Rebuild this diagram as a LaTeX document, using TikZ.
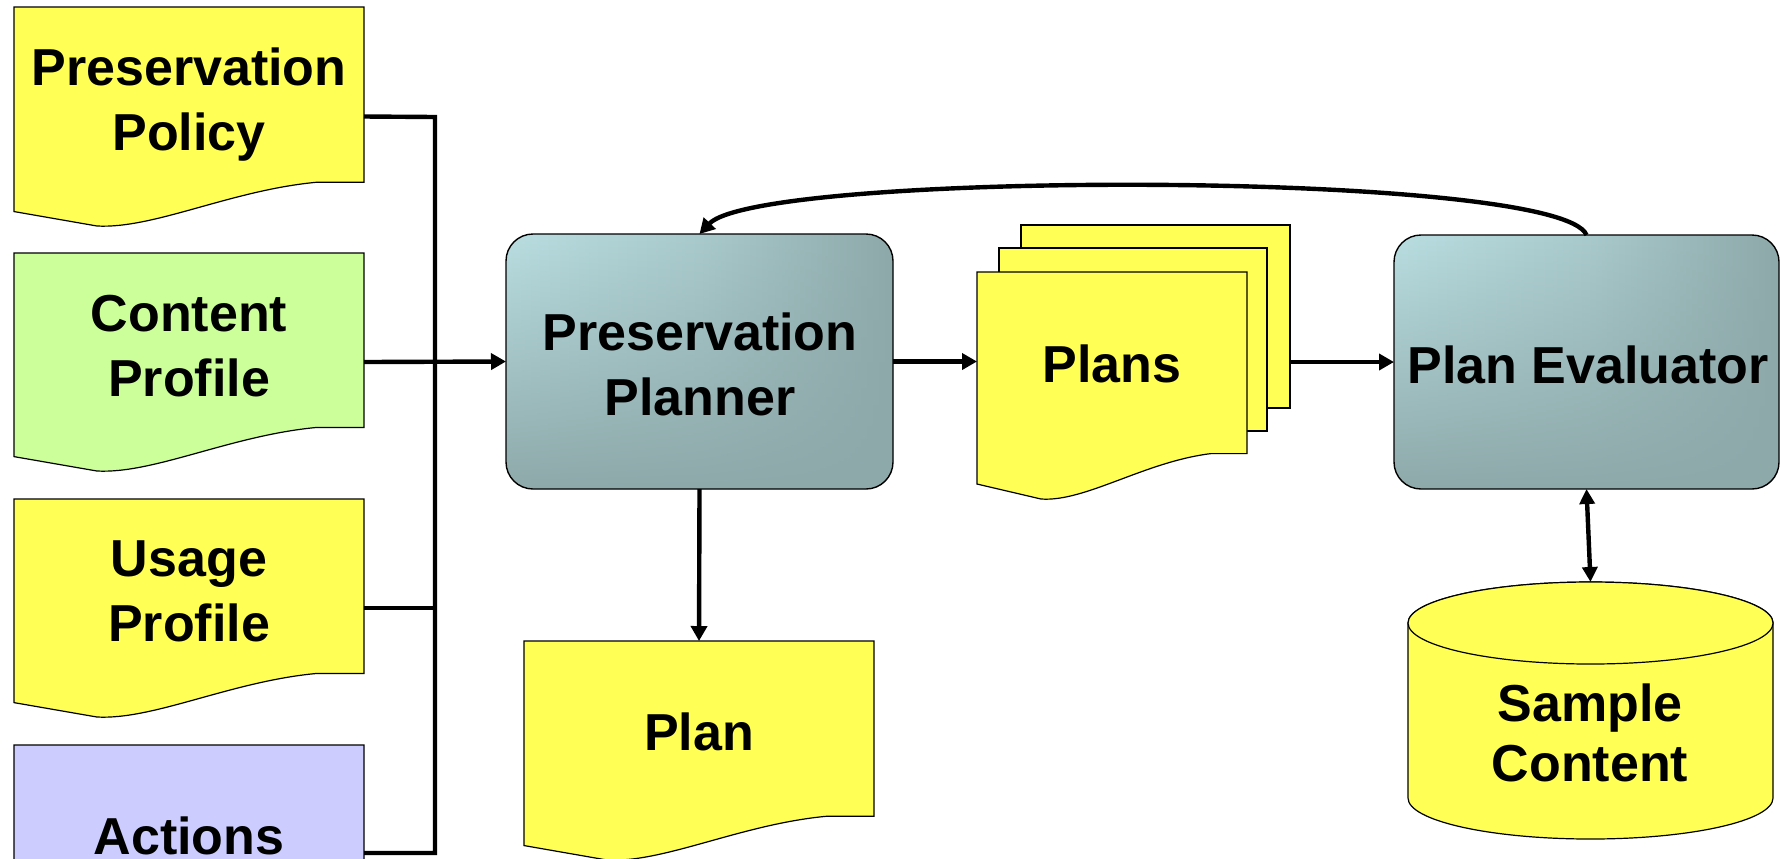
\documentclass[tikz,border=0pt]{standalone}
\usepackage{fontspec}
\setmainfont{Liberation Sans}
\usetikzlibrary{arrows.meta,fit,calc,fadings}

\definecolor{docyellow}{HTML}{FFFF55}
\definecolor{docgreen}{HTML}{CCFF99}
\definecolor{doclilac}{HTML}{CCCCFF}
\definecolor{boxlight}{HTML}{B9DEE1}
\definecolor{boxmid}{HTML}{A9CACC}
\definecolor{boxdark}{HTML}{8EA9AA}

% darkening towards the lower edge of the process boxes
\tikzfading[name=lowdark, top color=transparent!100, middle color=transparent!75, bottom color=transparent!0]

\tikzset{
  area/.style={inner sep=0pt, outer sep=0pt},
  docline/.style={draw=black, line width=0.6pt},
  sheet/.style={inner sep=0pt, outer sep=0pt, draw=black, line width=0.6pt, fill=docyellow},
  procbox/.style={inner sep=0pt, outer sep=0pt, rounded corners=13.5pt,
    left color=boxlight, right color=boxdark, middle color=boxmid,
    postaction={fill=boxdark, path fading=lowdark},
    postaction={draw=black, line width=0.7pt}},
  lbl/.style={font=\bfseries\fontsize{26pt}{32pt}\selectfont, inner sep=0pt, anchor=base},
  wire/.style={line width=2.2pt, line join=miter},
  arr/.style={line width=2.2pt, -{Triangle[length=7.5pt,width=8pt]}},
  twoway/.style={line width=2.2pt, {Triangle[length=7.5pt,width=7.5pt]}-{Triangle[length=7.5pt,width=7.5pt]}},
}

% document symbol with a wavy lower edge, drawn over the area of a node
\newcommand{\docshape}[2]{%
  \path[docline, fill=#2] let \p1=(#1.north west), \p2=(#1.south east),
      \n1={\x2-\x1}, \n2={\y1-\y2} in
    (\x1,\y1) -- (\x2,\y1) -- (\x2,{\y2+0.2*\n2})
    -- ({\x1+0.866*\n1},{\y2+0.2*\n2})
    .. controls ({\x1+0.62*\n1},{\y2+0.164*\n2}) and ({\x1+0.4*\n1},{\y2-0.014*\n2}) ..
    ({\x1+0.237*\n1},\y2) -- (\x1,{\y2+0.066*\n2}) -- cycle;}

\begin{document}
\begin{tikzpicture}[x=0.5pt,y=-0.5pt]
  \useasboundingbox (0,0) rectangle (1780,858);
  \clip (0,0) rectangle (1780,858);
  \fill[white] (0,0) rectangle (1780,858);

  % input documents
  \node[area, fit={(14,7)(364,226)}] (policy) {};
  \node[area, fit={(14,253)(364,471)}] (content) {};
  \node[area, fit={(14,499)(364,717)}] (usage) {};
  \node[area, fit={(14,745)(364,961)}] (actions) {};
  \docshape{policy}{docyellow}
  \docshape{content}{docgreen}
  \docshape{usage}{docyellow}
  \docshape{actions}{doclilac}
  \node[lbl] (policyA) at (189,85) {Preservation};
  \node[lbl] (policyB) at (189,150) {Policy};
  \node[lbl] (contentA) at (189,331) {Content};
  \node[lbl] (contentB) at (189,396) {Profile};
  \node[lbl] (usageA) at (189,576) {Usage};
  \node[lbl] (usageB) at (189,641) {Profile};
  \node[lbl] (actionsA) at (189,854) {Actions};

  % planner
  \node[procbox, fit={(506,234)(893,489)}] (planner) {};
  \node[lbl] (plannerA) at (700,350) {Preservation};
  \node[lbl] (plannerB) at (700,415) {Planner};

  % stack of plans
  \node[sheet, fit={(1021,225)(1290,408)}] (plansback) {};
  \node[sheet, fit={(999,248)(1267,431)}] (plansmid) {};
  \node[area, fit={(977,272)(1247,499)}] (plans) {};
  \docshape{plans}{docyellow}
  \node[lbl] (plansA) at (1112,382) {Plans};

  % resulting plan
  \node[area, fit={(524,641)(874,860)}] (plan) {};
  \docshape{plan}{docyellow}
  \node[lbl] (planA) at (699,750) {Plan};

  % evaluator
  \node[procbox, fit={(1394,235)(1779,489)}] (eval) {};
  \node[lbl] (evalA) at (1588,383) {Plan Evaluator};

  % sample content store
  \node[area, fit={(1408,582)(1773,839)}] (sample) {};
  \path[docline, fill=docyellow] (1408,623) -- (1408,798)
    arc[start angle=180, end angle=360, x radius=91.25pt, y radius=20.5pt]
    -- (1773,623)
    arc[start angle=0, end angle=180, x radius=91.25pt, y radius=20.5pt] -- cycle;
  \path[docline, fill=docyellow] (1590.5,623) ellipse [x radius=91.25pt, y radius=20.5pt];
  \node[lbl] (sampleA) at (1590,721) {Sample};
  \node[lbl] (sampleB) at (1590,781) {Content};

  % input bus
  \coordinate (bustop) at (435,117);
  \coordinate (busbot) at (435,853);
  \draw[wire] (policy.east) -- (bustop) -- (busbot) -- (actions.east);
  \draw[wire] (usage.east) -- (usage.east -| bustop);
  \draw[arr] (content.east) -- (planner.west);

  % flow between the stages
  \draw[arr] (planner.east) -- (planner.east -| plans.west);
  \draw[arr] (plansback.east |- eval.west) -- (eval.west);
  \draw[arr] (planner.south) -- (plan.north);
  \draw[twoway] (eval.south) -- (sample.north);
  \draw[line width=2.2pt, -{Triangle[length=7.5pt,width=8pt]}]
    (eval.north) .. controls (1560,170) and (760,170) .. (planner.north);
\end{tikzpicture}
\end{document}
